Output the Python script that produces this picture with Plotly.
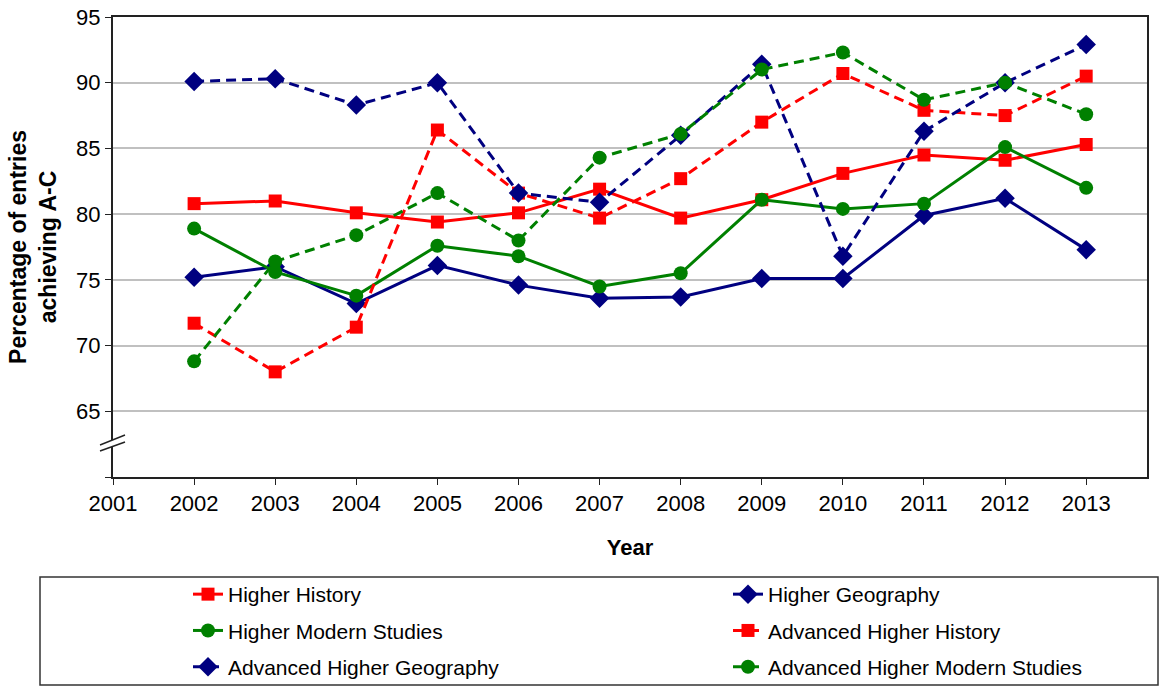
import plotly.graph_objects as go

years = [2002, 2003, 2004, 2005, 2006, 2007, 2008, 2009, 2010, 2011, 2012, 2013]

higher_history = [80.8, 81.0, 80.1, 79.4, 80.1, 81.9, 79.7, 81.1, 83.1, 84.5, 84.1, 85.3]
higher_geography = [75.2, 76.0, 73.2, 76.1, 74.6, 73.6, 73.7, 75.1, 75.1, 79.9, 81.2, 77.3]
higher_modern_studies = [78.9, 75.6, 73.8, 77.6, 76.8, 74.5, 75.5, 81.1, 80.4, 80.8, 85.1, 82.0]
adv_higher_history = [71.7, 68.0, 71.4, 86.4, 81.6, 79.7, 82.7, 87.0, 90.7, 87.9, 87.5, 90.5]
adv_higher_geography = [90.1, 90.3, 88.3, 90.0, 81.6, 80.9, 86.0, 91.4, 76.8, 86.3, 90.0, 92.9]
adv_higher_modern_studies = [68.8, 76.4, 78.4, 81.6, 78.0, 84.3, 86.1, 91.0, 92.3, 88.7, 90.0, 87.6]

x_ticks = list(range(2001, 2014))
y_ticks = [60, 65, 70, 75, 80, 85, 90, 95]
y_ticktext = ["", "65", "70", "75", "80", "85", "90", "95"]

RED = "#FF0000"
NAVY = "#000080"
GREEN = "#008000"
DASH = "10px,6px"

series = [
    ("Higher History", higher_history, RED, "solid", "square", 13, "legend"),
    ("Higher Geography", higher_geography, NAVY, "solid", "diamond", 15, "legend2"),
    ("Higher Modern Studies", higher_modern_studies, GREEN, "solid", "circle", 14, "legend"),
    ("Advanced Higher History", adv_higher_history, RED, DASH, "square", 13, "legend2"),
    ("Advanced Higher Geography", adv_higher_geography, NAVY, DASH, "diamond", 15, "legend"),
    ("Advanced Higher Modern Studies", adv_higher_modern_studies, GREEN, DASH, "circle", 14, "legend2"),
]

fig = go.Figure()
for i, (name, vals, col, dash, sym, size, leg) in enumerate(series):
    fig.add_trace(go.Scatter(
        x=years, y=vals, name=name, mode="lines+markers",
        line=dict(color=col, width=3, dash=dash),
        marker=dict(symbol=sym, size=size, color=col, line=dict(width=0)),
        legend=leg, legendgroup=name, legendrank=i,
    ))

L, R, T, B = 113, 13, 17, 209
W, H = 1160, 686
pw = W - L - R
ph = H - T - B

def px(x):
    return (x - L) / pw

def py(y):
    return (H - B - y) / ph

font = "Liberation Sans, Arial, sans-serif"

legend_common = dict(xanchor="left", yanchor="top",
                     orientation="v", tracegroupgap=6, bgcolor="rgba(0,0,0,0)",
                     font=dict(size=21, family=font))

fig.update_layout(
    width=W, height=H,
    margin=dict(l=L, r=R, t=T, b=B, pad=0, autoexpand=False),
    paper_bgcolor="white", plot_bgcolor="white",
    font=dict(family=font, size=21, color="black"),
    showlegend=True,
    legend=dict(x=px(188), y=py(574), **legend_common),
    legend2=dict(x=px(728), y=py(574), **legend_common),
    xaxis=dict(
        range=[2001, 2013.75], tickvals=x_ticks, ticktext=[str(v) for v in x_ticks],
        showgrid=False, zeroline=False,
        showline=True, linecolor="#222", linewidth=2, mirror=True,
        ticks="outside", ticklen=6, tickcolor="#222", tickwidth=1,
        tickfont=dict(size=22, family=font),
        title=dict(text="<b>Year</b>", font=dict(size=22, family=font), standoff=24),
    ),
    yaxis=dict(
        range=[60, 95], tickvals=y_ticks, ticktext=y_ticktext,
        showgrid=True, gridcolor="#c0c0c0", gridwidth=1.5, zeroline=False,
        showline=True, linecolor="#222", linewidth=2, mirror=True,
        ticks="outside", ticklen=6, tickcolor="#222", tickwidth=1,
        tickfont=dict(size=22, family=font),
        title=dict(text="<b>Percentage of entries<br>achieving A-C</b>",
                   font=dict(size=23, family=font), standoff=13),
    ),
    shapes=[
        dict(type="rect", xref="paper", yref="paper",
             x0=px(40), x1=px(1158), y0=py(685), y1=py(577),
             line=dict(color="#333", width=1.5), fillcolor="rgba(0,0,0,0)", layer="above"),
        dict(type="path", xref="paper", yref="paper",
             path=f"M {px(100)} {py(451)} L {px(125)} {py(442)} L {px(125)} {py(435)} L {px(100)} {py(445)} Z",
             fillcolor="white", line=dict(width=0), layer="above"),
        dict(type="line", xref="paper", yref="paper",
             x0=px(100), y0=py(451), x1=px(125), y1=py(442),
             line=dict(color="#222", width=1.5), layer="above"),
        dict(type="line", xref="paper", yref="paper",
             x0=px(100), y0=py(445), x1=px(125), y1=py(435),
             line=dict(color="#222", width=1.5), layer="above"),
    ],
)

fig.write_html("out.html", config={"displayModeBar": False},
               post_script="document.body.style.margin='0';")
